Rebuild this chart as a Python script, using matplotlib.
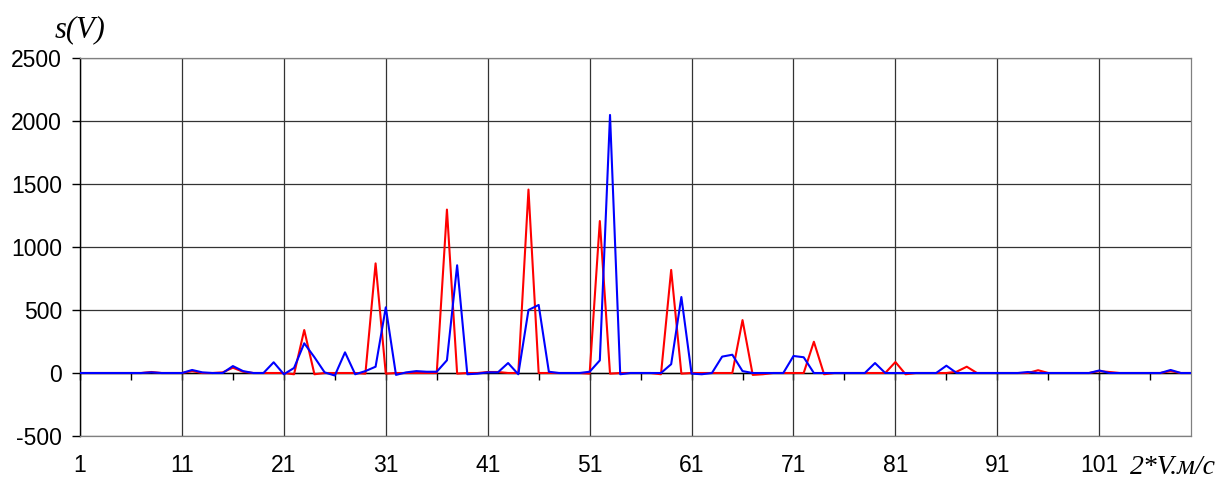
import matplotlib
matplotlib.use("Agg")
import matplotlib.pyplot as plt

# ---- data ----
x_values = list(range(1, 111))

red_points = {
    8: 8, 12: 15, 15: 5, 16: 42, 17: 10, 22: -10, 23: 341, 24: -10,
    29: -5, 30: 870, 31: -5, 37: 1297, 38: -5, 41: 8, 42: 8,
    45: 1456, 51: -5, 52: 1206, 53: -5, 58: -10, 59: 818, 60: -5,
    66: 420, 67: -15, 68: -10, 73: 248, 74: -10, 81: 87, 82: -10,
    87: 10, 88: 50, 95: 22, 101: 15, 102: 8, 108: 15,
}
blue_points = {
    8: 5, 12: 24, 13: 5, 16: 55, 17: 15, 20: 85, 21: -10, 22: 40,
    23: 236, 24: 125, 25: 5, 26: -20, 27: 164, 28: -10, 29: 15,
    30: 50, 31: 521, 32: -15, 33: 5, 34: 15, 35: 10, 36: 10,
    37: 101, 38: 855, 39: -10, 40: -5, 41: 5, 42: 5, 43: 79,
    44: -10, 45: 500, 46: 540, 47: 10, 51: 10, 52: 100, 53: 2048,
    54: -10, 59: 70, 60: 603, 61: -5, 62: -10, 64: 130, 65: 145,
    66: 15, 71: 135, 72: 125, 79: 79, 86: 58, 94: 8, 101: 20, 108: 24,
}
red_values = [red_points.get(v, 0) for v in x_values]
blue_values = [blue_points.get(v, 0) for v in x_values]

x_tick_labels = [1, 11, 21, 31, 41, 51, 61, 71, 81, 91, 101]
y_ticks = [-500, 0, 500, 1000, 1500, 2000, 2500]

# ---- figure ----
W, H = 1219, 479
fig = plt.figure(figsize=(W / 100, H / 100), dpi=100)
left, right, top, bottom = 80, 1191, 58, 436
ax = fig.add_axes([left / W, 1 - bottom / H, (right - left) / W, (bottom - top) / H])

ax.set_xlim(1, 110)
ax.set_ylim(-500, 2500)

grid_color = "#333333"
ax.set_xticks(x_tick_labels)
ax.set_yticks(y_ticks)
ax.grid(True, color=grid_color, linewidth=0.9)
ax.set_axisbelow(True)

ax.plot(x_values, red_values, color="#ff0000", linewidth=1.5,
        solid_joinstyle="round", zorder=3)
ax.plot(x_values, blue_values, color="#0000ff", linewidth=1.5,
        solid_joinstyle="round", zorder=4)

# zero line acting as category axis
ax.axhline(0, color="black", linewidth=1.0, zorder=2)

for s in ["top", "right", "bottom"]:
    ax.spines[s].set_color("#808080")
    ax.spines[s].set_linewidth(0.9)
ax.spines["left"].set_color("black")
ax.spines["left"].set_linewidth(1.0)

tick_font = dict(family="Liberation Sans", size=16.5)
ax.tick_params(axis="y", direction="out", length=6, width=1, color="black", pad=7)
ax.tick_params(axis="x", length=0, pad=13)
ax.set_xticklabels([str(v) for v in x_tick_labels], **tick_font)
ax.set_yticklabels([str(v) for v in y_ticks], **tick_font)

# minor tick marks on the zero line
sec = ax.secondary_xaxis(500 / 3000)
sec.set_xticks(list(range(1, 111, 5)))
sec.tick_params(direction="out", length=5, width=1, color="black",
                labelbottom=False, labeltop=False)
sec.spines["bottom"].set_visible(False)
sec.spines["top"].set_visible(False)
sec.xaxis.set_ticks_position("bottom")
sec.set_xticklabels([])

fig.text(55 / W, 1 - 30 / H, "s(V)", family="Liberation Serif", style="italic",
         size=22, ha="left", va="center")
fig.text(1130 / W, 1 - 467 / H, "2*V.м/с", family="Liberation Serif", style="italic",
         size=20, ha="left", va="center")

fig.savefig("out.png", dpi=100)
